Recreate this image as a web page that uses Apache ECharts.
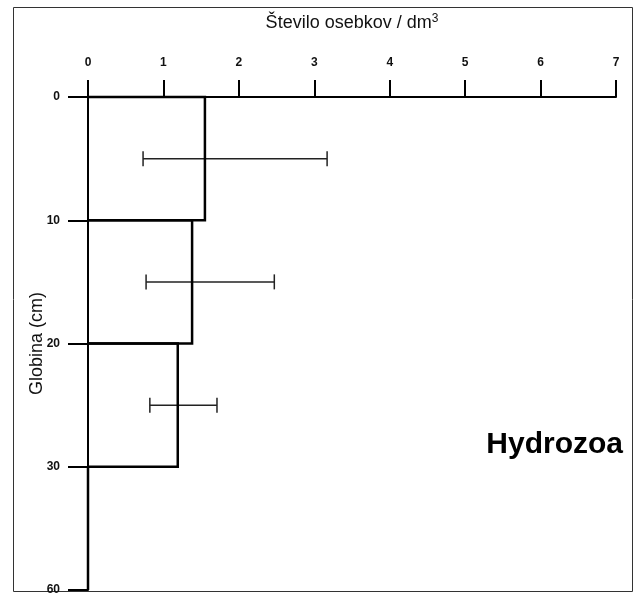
<!DOCTYPE html>
<html>
<head>
<meta charset="utf-8">
<script src="https://cdn.jsdelivr.net/npm/echarts@6/dist/echarts.min.js"></script>
<style>
html,body{margin:0;padding:0;background:#fff;}
#chart{width:640px;height:599px;}
</style>
</head>
<body>
<div id="chart"></div>
<script>
// Depth layer boundaries (cm) shown as tick labels on the depth axis
const depthLabels = ['0', '10', '20', '30', '60'];
// Count tick labels
const countTicks = [0, 1, 2, 3, 4, 5, 6, 7];
// Mean number of individuals per dm3 for each layer (0-10, 10-20, 20-30, 30-60)
const meanValues = [1.55, 1.38, 1.19, 0];
// Error bar lower and upper ends for layers
const errLow = [0.73, 0.77, 0.82];
const errHigh = [3.17, 2.47, 1.71];

const chart = echarts.init(document.getElementById('chart'), null, {renderer: 'canvas'});

const boxData = meanValues.map((v, i) => [v, i]);
const errData = errLow.map((lo, i) => [lo, errHigh[i], i]);

const option = {
  animation: false,
  backgroundColor: '#fff',
  grid: {left: 88, right: 24, top: 97, bottom: 9, containLabel: false},
  xAxis: {
    type: 'value',
    position: 'top',
    min: countTicks[0],
    max: countTicks[countTicks.length - 1],
    interval: 1,
    name: 'Število osebkov / dm{sup|3}',
    nameLocation: 'middle',
    nameGap: 64,
    nameMoveOverlap: false,
    nameTextStyle: {
      fontFamily: 'Liberation Sans, Arial, sans-serif',
      fontSize: 18,
      color: '#111',
      rich: {sup: {fontSize: 12, verticalAlign: 'top', padding: [0, 0, 8, 0], color: '#111', fontFamily: 'Liberation Sans, Arial, sans-serif'}}
    },
    axisLine: {show: true, onZero: false, lineStyle: {color: '#000', width: 2}},
    axisTick: {show: true, length: 17, lineStyle: {color: '#000', width: 2}},
    axisLabel: {
      margin: 28,
      fontSize: 12,
      fontWeight: 'bold',
      color: '#111',
      fontFamily: 'Liberation Sans, Arial, sans-serif'
    },
    splitLine: {show: false}
  },
  yAxis: {
    type: 'value',
    inverse: true,
    min: 0,
    max: depthLabels.length - 1,
    interval: 1,
    name: 'Globina (cm)',
    nameLocation: 'middle',
    nameGap: 42,
    nameMoveOverlap: false,
    nameRotate: 90,
    nameTextStyle: {
      fontFamily: 'Liberation Sans, Arial, sans-serif',
      fontSize: 18,
      color: '#111'
    },
    axisLine: {show: true, onZero: false, lineStyle: {color: '#000', width: 2}},
    axisTick: {show: true, length: 20, lineStyle: {color: '#000', width: 2}},
    axisLabel: {
      margin: 28,
      fontSize: 12,
      fontWeight: 'bold',
      color: '#111',
      fontFamily: 'Liberation Sans, Arial, sans-serif',
      formatter: (v) => depthLabels[Math.round(v)]
    },
    splitLine: {show: false}
  },
  graphic: [
    {
      type: 'rect',
      shape: {x: 13.5, y: 7.5, width: 619, height: 584},
      style: {fill: 'none', stroke: '#333', lineWidth: 1},
      z: 0
    },
    {
      type: 'text',
      right: 17,
      top: 430,
      style: {
        text: 'Hydrozoa',
        fontSize: 30,
        fontWeight: 'bold',
        fontFamily: 'Liberation Sans, Arial, sans-serif',
        fill: '#000'
      }
    }
  ],
  series: [
    {
      type: 'custom',
      name: 'layers',
      data: boxData,
      encode: {x: 0, y: 1},
      renderItem: function (params, api) {
        const v = api.value(0);
        const i = api.value(1);
        const p0 = api.coord([0, i]);
        const p1 = api.coord([v, i + 1]);
        return {
          type: 'polyline',
          shape: {points: [[p0[0], p0[1]], [p1[0], p0[1]], [p1[0], p1[1]], [p0[0], p1[1]]]},
          style: {fill: 'none', stroke: '#000', lineWidth: 2.5},
          z2: 5
        };
      }
    },
    {
      type: 'custom',
      name: 'errors',
      data: errData,
      encode: {x: [0, 1], y: 2},
      renderItem: function (params, api) {
        const lo = api.value(0);
        const hi = api.value(1);
        const i = api.value(2);
        const a = api.coord([lo, i + 0.5]);
        const b = api.coord([hi, i + 0.5]);
        const h = 7.5;
        const st = {stroke: '#222', lineWidth: 1.5};
        return {
          type: 'group',
          children: [
            {type: 'line', shape: {x1: a[0], y1: a[1], x2: b[0], y2: b[1]}, style: st},
            {type: 'line', shape: {x1: a[0], y1: a[1] - h, x2: a[0], y2: a[1] + h}, style: st},
            {type: 'line', shape: {x1: b[0], y1: b[1] - h, x2: b[0], y2: b[1] + h}, style: st}
          ]
        };
      }
    }
  ]
};

chart.setOption(option);
</script>
</body>
</html>
